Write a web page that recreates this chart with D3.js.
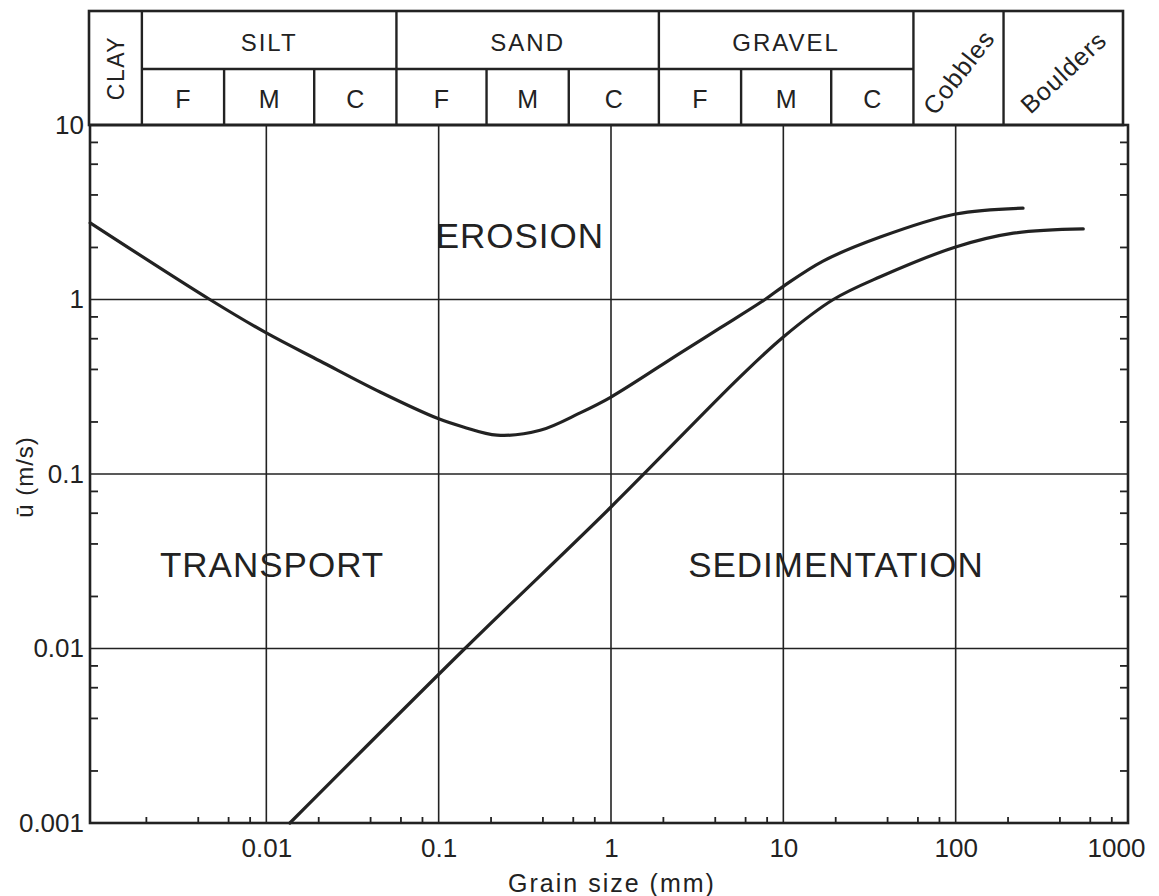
<!DOCTYPE html>
<html><head><meta charset="utf-8">
<script src="https://cdn.jsdelivr.net/npm/d3@7"></script>
<style>
body{margin:0;background:#fff}
svg{display:block}
text{font-family:"Liberation Sans",Arial,sans-serif;fill:#222}
</style></head>
<body><svg id="c" width="1159" height="896"></svg>
<script>
// ---- data ----
const xTicks = [0.01, 0.1, 1, 10, 100, 1000];
const xTickLabels = ["0.01", "0.1", "1", "10", "100", "1000"];
const yTicks = [0.001, 0.01, 0.1, 1, 10];
const yTickLabels = ["0.001", "0.01", "0.1", "1", "10"];

// erosion threshold curve (grain size mm, mean velocity m/s)
const erosionD = [0.00095, 0.0047, 0.01, 0.0205, 0.0457, 0.1, 0.139, 0.218, 0.388, 0.662, 1.0, 2.52, 4.3, 7.83, 10, 17, 36.5, 100, 246];
const erosionU = [2.75, 1.0, 0.643, 0.444, 0.295, 0.207, 0.186, 0.167, 0.178, 0.224, 0.276, 0.493, 0.687, 1.0, 1.19, 1.66, 2.28, 3.09, 3.34];
// sedimentation curve
const sedimentD = [0.0137, 0.142, 1.0, 5.61, 10, 19.5, 36.5, 100, 216, 550];
const sedimentU = [0.001, 0.01, 0.0647, 0.36, 0.61, 1.0, 1.35, 2.0, 2.40, 2.54];

const regionNames = ["EROSION", "TRANSPORT", "SEDIMENTATION"];
const regionD = [0.296, 0.0108, 20.2];
const regionU = [2.34, 0.0301, 0.0301];

const classNames = ["CLAY", "SILT", "SAND", "GRAVEL", "Cobbles", "Boulders"];
const classBounds = [0.002, 0.06, 2, 60, 200];
const subNames = ["F", "M", "C"];
const subBounds = [[0.002, 0.006, 0.02, 0.06], [0.06, 0.2, 0.6, 2], [2, 6, 20, 60]];

const xTitle = "Grain size (mm)";
const yTitle = "ū (m/s)";

// ---- layout ----
const W = 1159, H = 896;
const L = 90, R = 1128, T = 125, B = 823;
const hdrTop = 11, hdrMid = 69, hdrLeft = 89, hdrRight = 1123, hdrShift = -4;
const ink = "#222";

const svg = d3.select("#c");
svg.append("rect").attr("width", W).attr("height", H).attr("fill", "#fff");

const x = d3.scaleLog().domain([0.001, 1000]).range([94, 1128]);
const y = d3.scaleLog().domain([0.001, 10]).range([B, T]);
const hx = d => x(d) + hdrShift;

// gridlines
svg.append("g").selectAll("line").data([0.01, 0.1, 1, 10, 100]).join("line")
  .attr("x1", d => x(d)).attr("x2", d => x(d)).attr("y1", T).attr("y2", B)
  .attr("stroke", ink).attr("stroke-width", 1.6);
svg.append("g").selectAll("line").data([0.01, 0.1, 1]).join("line")
  .attr("x1", L).attr("x2", R).attr("y1", d => y(d)).attr("y2", d => y(d))
  .attr("stroke", ink).attr("stroke-width", 1.6);

// minor ticks
const minorX = [], minorY = [];
[0.001, 0.01, 0.1, 1, 10, 100].forEach(dec => [2, 4, 6, 8].forEach(m => minorX.push(dec * m)));
[0.001, 0.01, 0.1, 1].forEach(dec => [2, 4, 6, 8].forEach(m => minorY.push(dec * m)));

const ax1 = svg.append("g").attr("transform", `translate(0,${B})`)
  .call(d3.axisTop(x).tickValues(minorX).tickSize(6).tickFormat(""));
const ax2 = svg.append("g").attr("transform", `translate(${L},0)`)
  .call(d3.axisRight(y).tickValues(minorY).tickSize(8).tickFormat(""));
const ax3 = svg.append("g").attr("transform", `translate(${R},0)`)
  .call(d3.axisLeft(y).tickValues(minorY).tickSize(8).tickFormat(""));
[ax1, ax2, ax3].forEach(g => { g.select(".domain").remove(); g.selectAll("line").attr("stroke", ink).attr("stroke-width", 1.8); });

// tick labels
const axB = svg.append("g").attr("transform", `translate(0,${B})`)
  .call(d3.axisBottom(x).tickValues(xTicks).tickSize(0).tickPadding(16).tickFormat((d, i) => xTickLabels[i]));
axB.select(".domain").remove();
axB.selectAll("text").attr("font-size", 26).attr("fill", ink).attr("font-family", null)
  .attr("dx", d => d === 1000 ? -12 : 0);
const axL = svg.append("g").attr("transform", `translate(${L},0)`)
  .call(d3.axisLeft(y).tickValues(yTicks).tickSize(0).tickPadding(6).tickFormat((d, i) => yTickLabels[i]));
axL.select(".domain").remove();
axL.selectAll("text").attr("font-size", 26).attr("fill", ink).attr("font-family", null);

// curves
const line = d3.line().x(d => Math.max(L, x(d[0]))).y(d => y(d[1])).curve(d3.curveCatmullRom.alpha(0.5));
svg.append("path").attr("d", line(d3.zip(erosionD, erosionU)))
  .attr("fill", "none").attr("stroke", ink).attr("stroke-width", 3.2).attr("stroke-linecap", "round");
svg.append("path").attr("d", line(d3.zip(sedimentD, sedimentU)))
  .attr("fill", "none").attr("stroke", ink).attr("stroke-width", 3.2).attr("stroke-linecap", "round");

// frame
svg.append("rect").attr("x", L).attr("y", T).attr("width", R - L).attr("height", B - T)
  .attr("fill", "none").attr("stroke", ink).attr("stroke-width", 2.6);

// region labels
svg.append("g").selectAll("text").data(regionNames).join("text")
  .attr("x", (d, i) => x(regionD[i])).attr("y", (d, i) => y(regionU[i]))
  .attr("text-anchor", "middle").attr("dominant-baseline", "central")
  .attr("font-size", 35).attr("letter-spacing", 1).text(d => d);

// axis titles
svg.append("text").attr("x", 612).attr("y", 883)
  .attr("text-anchor", "middle").attr("dominant-baseline", "central")
  .attr("font-size", 25).attr("letter-spacing", 2).text(xTitle);
svg.append("text").attr("transform", "translate(24,477) rotate(-90)")
  .attr("text-anchor", "middle").attr("dominant-baseline", "central")
  .attr("font-size", 24).attr("letter-spacing", 1).text(yTitle);

// ---- header (grain size classes) ----
const hdr = svg.append("g");
hdr.append("rect").attr("x", hdrLeft).attr("y", hdrTop).attr("width", hdrRight - hdrLeft).attr("height", T - hdrTop)
  .attr("fill", "none").attr("stroke", ink).attr("stroke-width", 2.6);
hdr.selectAll("line.cb").data(classBounds).join("line").attr("class", "cb")
  .attr("x1", d => hx(d)).attr("x2", d => hx(d)).attr("y1", hdrTop).attr("y2", T)
  .attr("stroke", ink).attr("stroke-width", 2.4);
hdr.append("line").attr("x1", hx(0.002)).attr("x2", hx(60)).attr("y1", hdrMid).attr("y2", hdrMid)
  .attr("stroke", ink).attr("stroke-width", 2.4);
subBounds.forEach(b => {
  hdr.selectAll(null).data(b.slice(1, 3)).join("line")
    .attr("x1", d => hx(d)).attr("x2", d => hx(d)).attr("y1", hdrMid).attr("y2", T)
    .attr("stroke", ink).attr("stroke-width", 2.4);
  hdr.selectAll(null).data(subNames).join("text")
    .attr("x", (d, i) => (hx(b[i]) + hx(b[i + 1])) / 2).attr("y", (hdrMid + T) / 2 + 2)
    .attr("text-anchor", "middle").attr("dominant-baseline", "central")
    .attr("font-size", 25).text(d => d);
});
// main class names
const edges = [hdrLeft, ...classBounds.map(hx), hdrRight];
hdr.append("text").attr("transform", `translate(${(edges[0] + edges[1]) / 2 + 1},${(hdrTop + T) / 2}) rotate(-90)`)
  .attr("text-anchor", "middle").attr("dominant-baseline", "central")
  .attr("font-size", 23).attr("letter-spacing", 1.5).text(classNames[0]);
[1, 2, 3].forEach(i => {
  hdr.append("text").attr("x", (edges[i] + edges[i + 1]) / 2).attr("y", (hdrTop + hdrMid) / 2 + 2)
    .attr("text-anchor", "middle").attr("dominant-baseline", "central")
    .attr("font-size", 24).attr("letter-spacing", 2).text(classNames[i]);
});
hdr.append("text").attr("transform", `translate(${(edges[4] + edges[5]) / 2},${(hdrTop + T) / 2 + 4}) rotate(-52)`)
  .attr("text-anchor", "middle").attr("dominant-baseline", "central")
  .attr("font-size", 25).attr("letter-spacing", 1).text(classNames[4]);
hdr.append("text").attr("transform", `translate(${(edges[5] + edges[6]) / 2},${(hdrTop + T) / 2 + 4}) rotate(-43)`)
  .attr("text-anchor", "middle").attr("dominant-baseline", "central")
  .attr("font-size", 25).attr("letter-spacing", 1).text(classNames[5]);
</script></body></html>
